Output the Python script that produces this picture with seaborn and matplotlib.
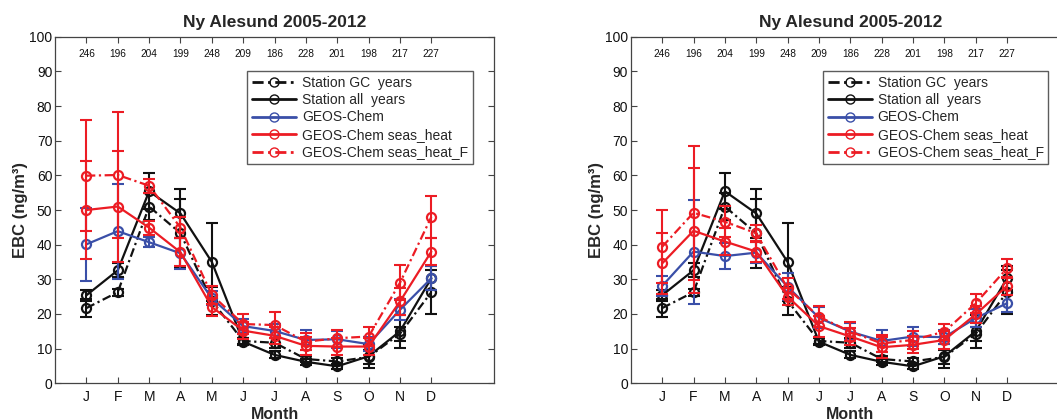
import numpy as np
import pandas as pd
import matplotlib
matplotlib.use("Agg")
import matplotlib.pyplot as plt
import seaborn as sns

# ---------------- data ----------------
month_labels = ["J", "F", "M", "A", "M", "J", "J", "A", "S", "O", "N", "D"]
months = list(range(1, 13))
counts = [246, 196, 204, 199, 248, 209, 186, 228, 201, 198, 217, 227]

station_gc = [21.7, 26.3, 51.0, 43.3, 23.8, 12.2, 11.7, 7.0, 6.3, 7.6, 14.3, 26.3]
station_gc_err = [2.5, 1.0, 4.0, 10.0, 4.0, 1.0, 1.5, 1.0, 1.0, 2.0, 2.0, 6.3]
station_all = [25.4, 32.6, 55.4, 49.0, 35.0, 12.0, 8.2, 6.2, 4.9, 7.8, 15.0, 30.3]
station_all_err = [1.6, 2.0, 5.2, 7.2, 11.3, 1.0, 1.0, 0.8, 0.8, 3.5, 4.7, 3.5]

# left panel (model)
gc_L = [40.1, 43.9, 40.7, 37.5, 24.5, 16.5, 15.1, 12.5, 12.7, 11.3, 21.2, 30.3]
gc_L_err = [10.5, 13.7, 1.5, 4.5, 2.0, 2.0, 2.0, 3.0, 2.5, 2.0, 3.0, 3.5]
sh_L = [50.0, 51.0, 44.9, 37.8, 22.0, 15.2, 13.7, 10.8, 10.6, 10.6, 23.6, 38.0]
sh_L_err = [14.0, 16.0, 2.0, 4.0, 2.5, 2.5, 2.5, 2.5, 2.5, 2.5, 4.0, 4.0]
shf_L = [59.9, 60.1, 57.0, 44.9, 25.5, 17.1, 16.8, 12.0, 13.0, 13.5, 29.0, 48.0]
shf_L_err = [16.0, 18.3, 2.0, 3.0, 2.5, 3.0, 3.8, 2.5, 2.5, 2.8, 5.0, 6.0]

# right panel (model)
gc_R = [28.1, 38.0, 36.7, 37.7, 27.9, 18.9, 14.9, 12.2, 13.5, 13.3, 18.8, 23.1]
gc_R_err = [3.0, 15.0, 3.7, 3.0, 4.0, 3.0, 2.5, 3.3, 2.7, 2.0, 2.5, 2.5]
sh_R = [34.6, 44.0, 40.9, 38.0, 25.0, 16.5, 13.5, 10.4, 11.1, 12.5, 19.9, 28.1]
sh_R_err = [8.8, 18.0, 4.0, 3.0, 2.5, 3.0, 2.5, 3.0, 2.5, 2.5, 2.5, 2.5]
shf_R = [39.4, 49.2, 46.6, 43.3, 27.4, 19.2, 14.9, 11.5, 12.5, 14.9, 23.1, 33.2]
shf_R_err = [10.5, 19.4, 4.5, 2.5, 3.0, 3.0, 2.8, 2.5, 2.5, 2.3, 2.8, 2.8]

labels = ["Station GC  years", "Station all  years", "GEOS-Chem",
          "GEOS-Chem seas_heat", "GEOS-Chem seas_heat_F"]

# ---------------- style ----------------
sns.set_theme(style="ticks")
plt.rcParams["font.family"] = ["Liberation Sans", "DejaVu Sans"]

BLACK = "#111111"
BLUE = "#3a4fa8"
RED = "#ec1c24"
DASHDOT = (0, (4, 1.6, 1, 1.6))

styles = [
    (BLACK, DASHDOT),
    (BLACK, "-"),
    (BLUE, "-"),
    (RED, "-"),
    (RED, DASHDOT),
]

fig = plt.figure(figsize=(10.57, 4.2), dpi=100)
ax_positions = [[0.0521, 0.0874, 0.4153, 0.8252],
                [0.5968, 0.0874, 0.4153, 0.8252]]

panels = [
    [(station_gc, station_gc_err), (station_all, station_all_err),
     (gc_L, gc_L_err), (sh_L, sh_L_err), (shf_L, shf_L_err)],
    [(station_gc, station_gc_err), (station_all, station_all_err),
     (gc_R, gc_R_err), (sh_R, sh_R_err), (shf_R, shf_R_err)],
]

for pos, series in zip(ax_positions, panels):
    ax = fig.add_axes(pos)
    for (vals, errs), (col, ls), lab in zip(series, styles, labels):
        ax.errorbar(months, vals, yerr=errs, fmt="none", ecolor=col,
                    elinewidth=1.5, capsize=4.5, capthick=1.5)
        df = pd.DataFrame({"month": months, "val": vals})
        sns.lineplot(data=df, x="month", y="val", ax=ax, color=col,
                     linestyle=ls, linewidth=1.6, marker="o", markersize=6.5,
                     markerfacecolor="none", markeredgecolor=col,
                     markeredgewidth=1.6, label=lab)
    for m, n in zip(months, counts):
        ax.text(m, 95, str(n), ha="center", va="center", fontsize=7.3,
                color=BLACK)
    ax.set_xlim(0, 14)
    ax.set_ylim(0, 100)
    ax.set_xticks(months)
    ax.set_xticklabels(month_labels, fontsize=10)
    ax.set_yticks(np.arange(0, 101, 10))
    ax.set_yticklabels([str(v) for v in range(0, 101, 10)], fontsize=10)
    ax.tick_params(direction="in", top=True, right=True, length=4,
                   width=0.8, color="#444444", labelcolor=BLACK)
    ax.tick_params(axis="x", pad=5)
    ax.tick_params(axis="y", pad=2)
    for sp in ax.spines.values():
        sp.set_visible(True)
        sp.set_color("#444444")
        sp.set_linewidth(0.9)
    ax.set_title("Ny Alesund 2005-2012", fontsize=12.5, fontweight="bold",
                 pad=7)
    ax.set_ylabel("EBC (ng/m³)", fontsize=12, fontweight="bold", labelpad=1)
    ax.set_xlabel("Month", fontsize=11.5, fontweight="bold", labelpad=2)
    leg = ax.legend(loc="upper left", bbox_to_anchor=(0.437, 0.902),
                    fontsize=10, frameon=True, fancybox=False,
                    handlelength=3.2, handletextpad=0.4, borderpad=0.35,
                    labelspacing=0.25, borderaxespad=0)
    leg.get_frame().set_edgecolor("#333333")
    leg.get_frame().set_linewidth(1.0)
    for h in leg.legend_handles:
        h.set_markeredgewidth(1.0)
        h.set_linewidth(2.0)

fig.savefig("out.png", dpi=100)
